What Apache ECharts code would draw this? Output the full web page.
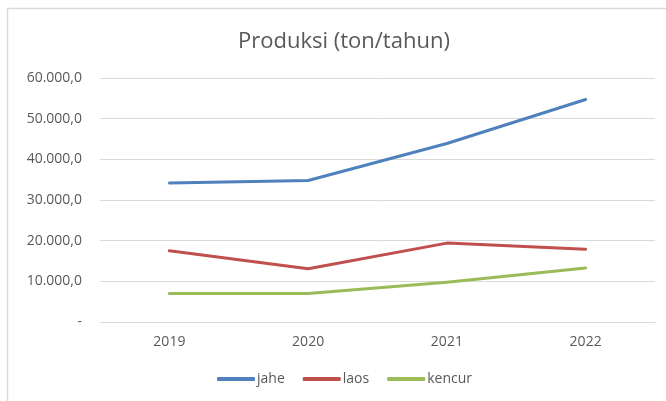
<!DOCTYPE html>
<html><head><meta charset="utf-8">
<script src="https://cdn.jsdelivr.net/npm/echarts@6/dist/echarts.min.js"></script>
<style>html,body{margin:0;padding:0;background:#fff}#c{width:666px;height:401px}</style>
</head><body><div id="c"></div>
<script>
const categories = ['2019', '2020', '2021', '2022'];
const jahe = [34200, 34800, 43900, 54700];
const laos = [17500, 13100, 19400, 17900];
const kencur = [7000, 7000, 9800, 13300];
const seriesNames = ['jahe', 'laos', 'kencur'];
const colors = ['#4F81BD', '#C0504D', '#9BBB59'];

function fmt(v) {
  if (v === 0) return '-';
  const s = Math.round(v).toString().replace(/\B(?=(\d{3})+(?!\d))/g, '.');
  return s + ',0';
}

const chart = echarts.init(document.getElementById('c'));
const font = '"Open Sans", "Noto Sans", sans-serif';
chart.setOption({
  animation: false,
  title: {
    text: 'Produksi (ton/tahun)', left: 233, top: 26,
    textStyle: { fontFamily: font, fontSize: 22, fontWeight: 'normal', color: '#595959' }
  },
  legend: {
    bottom: 10, left: 212, itemWidth: 38, itemHeight: 4, itemGap: 18,
    icon: 'roundRect',
    textStyle: { fontFamily: font, fontSize: 14, color: '#595959', padding: [0, 0, 0, -3] },
    data: seriesNames
  },
  grid: { left: 100, right: 11, top: 78, bottom: 79, containLabel: false },
  xAxis: {
    type: 'category', data: categories, boundaryGap: true,
    axisLine: { show: true, lineStyle: { color: '#d9d9d9', width: 1 } },
    axisTick: { show: false },
    axisLabel: { fontFamily: font, fontSize: 14, color: '#595959', margin: 13 }
  },
  yAxis: {
    type: 'value', min: 0, max: 60000, interval: 10000,
    axisLine: { show: false }, axisTick: { show: false },
    splitLine: { lineStyle: { color: '#d9d9d9', width: 1 } },
    axisLabel: { fontFamily: font, fontSize: 14, color: '#595959', margin: 18, formatter: fmt }
  },
  graphic: [{
    type: 'rect', shape: { x: 7.5, y: 8.5, width: 700, height: 500 },
    style: { fill: 'none', stroke: '#d9d9d9', lineWidth: 1.5 }, silent: true
  }],
  series: [
    { name: 'jahe', type: 'line', data: jahe, color: colors[0], showSymbol: false, symbol: 'none', lineStyle: { width: 3, cap: 'round', join: 'round' } },
    { name: 'laos', type: 'line', data: laos, color: colors[1], showSymbol: false, symbol: 'none', lineStyle: { width: 3, cap: 'round', join: 'round' } },
    { name: 'kencur', type: 'line', data: kencur, color: colors[2], showSymbol: false, symbol: 'none', lineStyle: { width: 3, cap: 'round', join: 'round' } }
  ]
});
</script></body></html>
